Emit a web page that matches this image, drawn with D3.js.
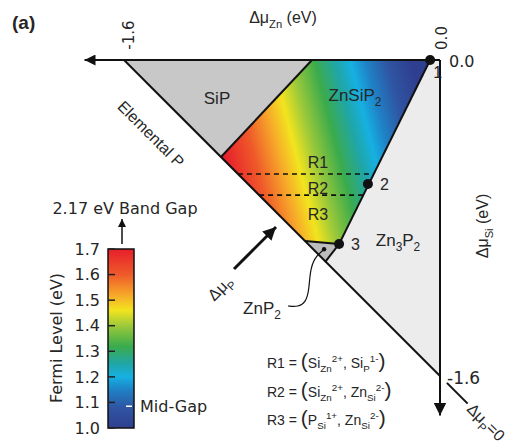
<!DOCTYPE html>
<html>
<head>
<meta charset="utf-8">
<style>
body { margin: 0; background: #fff; }
text { font-family: "Liberation Sans", Arial, sans-serif; fill: #262626; }
.dv text, text.dv { font-family: "DejaVu Sans", sans-serif; }
</style>
<script src="https://d3js.org/d3.v7.min.js"></script>
</head>
<body>
<svg width="512" height="444"></svg>
<script>

// corners of the stability regions, [Δμ_Zn, Δμ_Si] in eV
var sipRegion = [[-1.6, 0], [-0.648, 0], [-1.109, -0.491]];
var znsip2Region = [[-0.648, 0], [-0.05, 0], [-0.511, -0.932], [-0.684, -0.916], [-1.109, -0.491]];
var znp2Region = [[-0.684, -0.916], [-0.511, -0.932], [-0.582, -1.023]];
var zn3p2Region = [[-0.05, 0], [0, 0], [0, -1.6], [-0.582, -1.023], [-0.511, -0.932]];
var dmuP0Line = [[-1.6, 0], [0, -1.6]];
var dmuP0Tail = [[0.035, -1.635], [0.14, -1.74]];
var numberedPoints = [
  {id: "1", zn: -0.05, si: 0},
  {id: "2", zn: -0.365, si: -0.628},
  {id: "3", zn: -0.511, si: -0.932}
];
var znp2Dot = [-0.587, -0.958];
var regionCuts = [-0.577, -0.684];          // Δμ_Si of the R1/R2 and R2/R3 borders
var gradientEnds = [[-1.06, -0.608], [-0.06, -0.354]]; // red end, blue end
var axisEnd = -1.8;

// fermi level colour bar
var fermiTicks = [1.0, 1.1, 1.2, 1.3, 1.4, 1.5, 1.6, 1.7];
var fermiStops = [1.0, 1.08, 1.15, 1.2, 1.25, 1.32, 1.4, 1.46, 1.52, 1.6, 1.7];
var fermiColors = ["#2f3f8f", "#2f55a3", "#1f82c6", "#16b0e2", "#1fa6a8", "#3bab4c",
                   "#9cc93a", "#f2e41e", "#f7a82a", "#ef5a2a", "#e61f2b"];
var midGap = 1.085;
var equations = [
  ["R1", "Si", "Zn", "2+", "Si", "P", "1-"],
  ["R2", "Si", "Zn", "2+", "Zn", "Si", "2-"],
  ["R3", "P", "Si", "1+", "Zn", "Si", "2-"]
];

var svg = d3.select("svg");

var x = d3.scaleLinear().domain([-1.6, 0]).range([124, 440]);
var y = d3.scaleLinear().domain([0, -1.6]).range([60, 376]);
var fermi = d3.scaleLinear().domain([1.0, 1.7]).range([428, 249]);
var line = d3.line().x(function(d) { return x(d[0]); }).y(function(d) { return y(d[1]); });
var poly = function(pts) { return line(pts) + "Z"; };

var defs = svg.append("defs");
function marker(id, len, half) {
  defs.append("marker").attr("id", id)
      .attr("markerUnits", "userSpaceOnUse")
      .attr("viewBox", (-len) + " " + (-half) + " " + len + " " + (2 * half))
      .attr("markerWidth", len).attr("markerHeight", 2 * half)
      .attr("refX", 0).attr("refY", 0).attr("orient", "auto")
    .append("path").attr("d", "M" + (-len) + "," + (-half) + "L0,0L" + (-len) + "," + half + "Z")
      .attr("fill", "#111");
}
marker("head", 11, 5.5);
marker("headBig", 13, 6.5);
marker("headSmall", 8, 4);

// gradient of the ZnSiP2 region, coloured like the bar
var grad = defs.append("linearGradient").attr("id", "fermiGrad")
    .attr("gradientUnits", "userSpaceOnUse")
    .attr("x1", x(gradientEnds[0][0])).attr("y1", y(gradientEnds[0][1]))
    .attr("x2", x(gradientEnds[1][0])).attr("y2", y(gradientEnds[1][1]));
fermiStops.slice().reverse().forEach(function(f, i) {
  grad.append("stop").attr("offset", (1.7 - f) / 0.7)
      .attr("stop-color", fermiColors[fermiStops.length - 1 - i]);
});
var barGrad = defs.append("linearGradient").attr("id", "barGrad")
    .attr("x1", 0).attr("y1", 1).attr("x2", 0).attr("y2", 0);
fermiStops.forEach(function(f, i) {
  barGrad.append("stop").attr("offset", (f - 1.0) / 0.7).attr("stop-color", fermiColors[i]);
});

// region fills
svg.append("path").attr("d", poly(zn3p2Region)).attr("fill", "#ececec");
svg.append("path").attr("d", poly(sipRegion)).attr("fill", "#c8c8c8");
svg.append("path").attr("d", poly(znsip2Region)).attr("fill", "url(#fermiGrad)");
svg.append("path").attr("d", poly(znp2Region)).attr("fill", "#bdbdbd");

// region borders
var borders = [
  [sipRegion[1], sipRegion[2]],
  [znsip2Region[1], znsip2Region[2]],
  [znsip2Region[2], znsip2Region[3]],
  [znp2Region[1], znp2Region[2]]
];
svg.selectAll(".border").data(borders).enter().append("path")
    .attr("d", line).attr("fill", "none").attr("stroke", "#111").attr("stroke-width", 2);

// dashed R1/R2/R3 borders, from Δμ_P = 0 to the ZnSiP2 / Zn3P2 edge
var p1 = numberedPoints[0], p3 = numberedPoints[2];
svg.selectAll(".cut").data(regionCuts).enter().append("path")
    .attr("d", function(si) {
      var right = p1.zn + (si / p3.si) * (p3.zn - p1.zn);
      return line([[-1.6 - si, si], [right, si]]);
    })
    .attr("fill", "none").attr("stroke", "#111").attr("stroke-width", 1.6)
    .attr("stroke-dasharray", "5,4");

// Δμ_P = 0 edge
svg.append("path").attr("d", line(dmuP0Line)).attr("stroke", "#111").attr("stroke-width", 2);
svg.append("path").attr("d", line(dmuP0Tail)).attr("stroke", "#111").attr("stroke-width", 2);

// axes
svg.append("path").attr("d", line([[0, 0], [axisEnd, 0]]))
    .attr("stroke", "#111").attr("stroke-width", 2).attr("marker-end", "url(#head)");
svg.append("path").attr("d", line([[0, 0], [0, axisEnd]]))
    .attr("stroke", "#111").attr("stroke-width", 2).attr("marker-end", "url(#headBig)");

// numbered points
svg.selectAll(".pt").data(numberedPoints).enter().append("circle")
    .attr("cx", function(d) { return x(d.zn); }).attr("cy", function(d) { return y(d.si); })
    .attr("r", 5).attr("fill", "#111");
svg.append("circle").attr("cx", x(znp2Dot[0])).attr("cy", y(znp2Dot[1])).attr("r", 2.2).attr("fill", "#111");

var ptOffsets = {"1": [3, 18], "2": [12, 6], "3": [12, 6]};
svg.selectAll(".ptl").data(numberedPoints).enter().append("text")
    .attr("x", function(d) { return x(d.zn) + ptOffsets[d.id][0]; })
    .attr("y", function(d) { return y(d.si) + ptOffsets[d.id][1]; })
    .attr("font-size", 16).text(function(d) { return d.id; });

// text helper with sub / superscripts
function rich(parent, parts, size) {
  var t = parent.append("text").attr("font-size", size);
  var shift = 0;
  parts.forEach(function(p) {
    var mode = p[1] || "n", target = 0, fs = size;
    if (mode === "sub") { target = size * 0.3; fs = size * 0.7; }
    if (mode === "sup") { target = -size * 0.4; fs = size * 0.7; }
    if (mode === "big") { fs = size * 1.5; }
    t.append("tspan").attr("dy", target - shift).attr("font-size", fs).text(p[0]);
    shift = target;
  });
  return t;
}

// titles and region labels
svg.append("text").attr("x", 12).attr("y", 29).attr("font-size", 19)
    .attr("font-weight", "bold").text("(a)");
rich(svg, [["Δμ"], ["Zn", "sub"], [" (eV)"]], 16)
    .attr("x", 283).attr("y", 23).attr("text-anchor", "middle");
rich(svg, [["Δμ"], ["Si", "sub"], [" (eV)"]], 16)
    .attr("text-anchor", "middle").attr("transform", "translate(488,226) rotate(-90)");
svg.append("text").attr("class", "dv").attr("font-size", 15).attr("text-anchor", "middle")
    .attr("transform", "translate(134,35) rotate(-90)").text("-1.6");
svg.append("text").attr("class", "dv").attr("font-size", 15).attr("text-anchor", "middle")
    .attr("transform", "translate(447,38) rotate(-90)").text("0.0");
svg.append("text").attr("class", "dv").attr("font-size", 16).attr("x", 449).attr("y", 67).text("0.0");
svg.append("text").attr("class", "dv").attr("font-size", 17).attr("x", 447).attr("y", 384).text("-1.6");
rich(svg, [["Δμ"], ["P", "sub"], ["=0"]], 16)
    .attr("transform", "translate(466,410) rotate(45)");

svg.append("text").attr("x", 217).attr("y", 104).attr("font-size", 17)
    .attr("text-anchor", "middle").text("SiP");
rich(svg, [["ZnSiP"], ["2", "sub"]], 17).attr("x", 355).attr("y", 101).attr("text-anchor", "middle");
rich(svg, [["Zn"], ["3", "sub"], ["P"], ["2", "sub"]], 17).attr("x", 398).attr("y", 246).attr("text-anchor", "middle");
rich(svg, [["ZnP"], ["2", "sub"]], 17).attr("x", 262).attr("y", 314).attr("text-anchor", "middle");
svg.append("text").attr("font-size", 16).attr("text-anchor", "middle")
    .attr("transform", "translate(147,138) rotate(45)").text("Elemental P");

["R1", "R2", "R3"].forEach(function(r, i) {
  svg.append("text").attr("x", 318).attr("y", 168 + i * 26).attr("font-size", 16)
      .attr("text-anchor", "middle").text(r);
});

// Δμ_P direction arrow and label
svg.append("line").attr("x1", 234).attr("y1", 269).attr("x2", 276).attr("y2", 227)
    .attr("stroke", "#111").attr("stroke-width", 3).attr("marker-end", "url(#headBig)");
rich(svg, [["Δμ"], ["P", "sub"]], 16)
    .attr("text-anchor", "middle").attr("transform", "translate(224,292) rotate(-45)");

// ZnP2 leader
svg.append("path")
    .attr("d", d3.line().curve(d3.curveBasis)([[x(znp2Dot[0]), y(znp2Dot[1])], [314, 258], [310, 272],
                                               [309, 290], [306, 302], [298, 307], [288, 306]]))
    .attr("fill", "none").attr("stroke", "#111").attr("stroke-width", 1.2);

// defect equations
equations.forEach(function(e, i) {
  rich(svg, [[e[0] + " = "], ["(", "big"], [e[1]], [e[2], "sub"], [e[3], "sup"], [", " + e[4]],
             [e[5], "sub"], [e[6], "sup"], [")", "big"]], 14)
      .attr("x", 267).attr("y", 368 + i * 28.5);
});

// colour bar
var bar = svg.append("g").attr("class", "dv");
bar.append("rect").attr("x", 108).attr("y", fermi(1.7)).attr("width", 26)
    .attr("height", fermi(1.0) - fermi(1.7)).attr("fill", "url(#barGrad)")
    .attr("stroke", "#111").attr("stroke-width", 1.5);
bar.selectAll(".tk").data(fermiTicks).enter().append("line")
    .attr("x1", 108).attr("x2", 115)
    .attr("y1", function(d) { return fermi(d); }).attr("y2", function(d) { return fermi(d); })
    .attr("stroke", "#222").attr("stroke-width", 1.5);
bar.selectAll(".tl").data(fermiTicks).enter().append("text")
    .attr("x", 100).attr("y", function(d) { return fermi(d); }).attr("dy", "0.36em")
    .attr("text-anchor", "end").attr("font-size", 16).attr("fill", "#333")
    .text(function(d) { return d.toFixed(1); });
bar.append("line").attr("x1", 126).attr("x2", 132).attr("y1", fermi(midGap)).attr("y2", fermi(midGap))
    .attr("stroke", "#fff").attr("stroke-width", 1.5);
bar.append("text").attr("x", 140).attr("y", fermi(midGap)).attr("dy", "0.36em")
    .attr("font-size", 16).attr("fill", "#333").text("Mid-Gap");
bar.append("text").attr("font-size", 16).attr("fill", "#333").attr("text-anchor", "middle")
    .attr("transform", "translate(62,338) rotate(-90)").text("Fermi Level (eV)");
bar.append("line").attr("x1", 122).attr("x2", 122).attr("y1", fermi(1.7) - 5).attr("y2", 219)
    .attr("stroke", "#111").attr("stroke-width", 1.5).attr("marker-end", "url(#headSmall)");
bar.append("text").attr("x", 125).attr("y", 214).attr("font-size", 16).attr("fill", "#333")
    .attr("text-anchor", "middle").text("2.17 eV Band Gap");

</script>
</body>
</html>
